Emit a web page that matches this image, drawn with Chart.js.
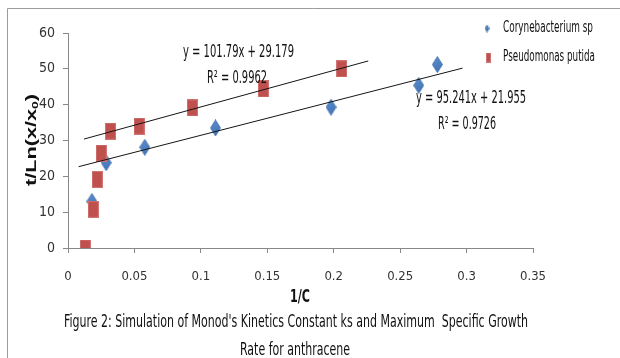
<!DOCTYPE html>
<html><head><meta charset="utf-8">
<script src="https://cdn.jsdelivr.net/npm/chart.js@4.4.1/dist/chart.umd.min.js"></script>
<style>html,body{margin:0;padding:0;background:#fff;}#wrap{width:620px;height:358px;}</style>
</head><body><div id="wrap"><canvas id="c" width="620" height="358"></canvas></div>
<script>
const coryX = [0.018, 0.0287, 0.0578, 0.111, 0.198, 0.264, 0.278];
const coryY = [13, 23.8, 28.1, 33.5, 39.3, 45.4, 51.2];
const pseudoX = [0.013, 0.019, 0.022, 0.025, 0.032, 0.0535, 0.0936, 0.147, 0.206];
const pseudoY = [0, 10.8, 19.1, 26.5, 32.6, 34, 39.1, 44.4, 50];
const pseudoTrendX = [0.012, 0.226];
const pseudoTrendY = [30.4, 52.2];
const coryTrendX = [0.008, 0.297];
const coryTrendY = [22.7, 50.2];
const xTickLabels = ['0','0.05','0.1','0.15','0.2','0.25','0.3','0.35'];
const yTickLabels = ['0','10','20','30','40','50','60'];
const seriesNames = ['Corynebacterium sp','Pseudomonas putida'];
const eqTexts = ['y = 101.79x + 29.179','R² = 0.9962','y = 95.241x + 21.955','R² = 0.9726'];
const xTitle = '1/C';
const yTitleParts = ['t/Ln(x/x','0',')'];
const captionLines = ["Figure 2: Simulation of Monod's Kinetics Constant ks and Maximum  Specific Growth","Rate for anthracene"];

const NARROW = '"Liberation Sans Narrow","DejaVu Sans Condensed","Arial Narrow",sans-serif';

function makeDiamond(w, h) {
  const c = document.createElement('canvas'); c.width = w; c.height = h;
  const g = c.getContext('2d');
  const gr = g.createLinearGradient(0, 0, w, h);
  gr.addColorStop(0, '#5f92d2'); gr.addColorStop(1, '#3d6eb0');
  g.beginPath(); g.moveTo(w/2, 0.5); g.lineTo(w-0.5, h/2); g.lineTo(w/2, h-0.5); g.lineTo(0.5, h/2); g.closePath();
  g.fillStyle = gr; g.fill();
  g.strokeStyle = '#3a6aa6'; g.lineWidth = 0.8; g.stroke();
  return c;
}
function makeRect(w, h) {
  const c = document.createElement('canvas'); c.width = w; c.height = h;
  const g = c.getContext('2d');
  g.fillStyle = '#c0504d'; g.fillRect(0, 0, w, h);
  g.strokeStyle = '#cf7472'; g.lineWidth = 1; g.strokeRect(0.5, 0.5, w-1, h-1);
  return c;
}
const diamondImg = makeDiamond(11, 17);
const rectImg = makeRect(11, 17);
const diamondSmall = makeDiamond(5, 8);
const rectSmall = makeRect(5, 10);

function pts(xs, ys) { return xs.map((x, i) => ({x: x, y: ys[i]})); }

function fitText(ctx, txt, left, right, cy, font, color) {
  ctx.save();
  ctx.font = font;
  const w = ctx.measureText(txt).width;
  const sx = (right - left) / w;
  ctx.translate(left, cy); ctx.scale(sx, 1);
  ctx.textBaseline = 'middle'; ctx.textAlign = 'left'; ctx.fillStyle = color;
  ctx.fillText(txt, 0, 0);
  ctx.restore();
}

const decor = {
  id: 'decor',
  afterDraw(chart) {
    const ctx = chart.ctx;
    ctx.save();
    ctx.strokeStyle = '#9c9c9c'; ctx.lineWidth = 1;
    ctx.beginPath(); ctx.moveTo(7.5, 358); ctx.lineTo(7.5, 8.5); ctx.lineTo(620, 8.5); ctx.stroke();
    const ef = '17px ' + NARROW;
    fitText(ctx, eqTexts[0], 183, 294, 53, ef, '#111');
    fitText(ctx, eqTexts[1], 207, 267, 79, ef, '#111');
    fitText(ctx, eqTexts[2], 416, 526, 99, ef, '#111');
    fitText(ctx, eqTexts[3], 438, 496, 125, ef, '#111');
    ctx.drawImage(diamondSmall, 487 - 2.5, 28.5 - 4);
    ctx.drawImage(rectSmall, 488.5 - 2.5, 57.5 - 5);
    const lf = '15px ' + NARROW;
    fitText(ctx, seriesNames[0], 503, 593, 28.5, lf, '#111');
    fitText(ctx, seriesNames[1], 503, 595, 57.5, lf, '#111');
    fitText(ctx, xTitle, 290, 310, 297.5, 'bold 17px ' + NARROW, '#111');
    const cf = '18px ' + NARROW;
    fitText(ctx, captionLines[0], 64, 528, 322.5, cf, '#111');
    fitText(ctx, captionLines[1], 240, 350, 350, cf, '#111');
    ctx.save();
    const mainF = 'bold 14px "Liberation Sans","DejaVu Sans",Arial,sans-serif';
    const subF = 'bold 9px "Liberation Sans","DejaVu Sans",Arial,sans-serif';
    ctx.font = mainF; const w0 = ctx.measureText(yTitleParts[0]).width; const w2 = ctx.measureText(yTitleParts[2]).width;
    ctx.font = subF; const w1 = ctx.measureText(yTitleParts[1]).width;
    const total = w0 + w1 + w2;
    const targetLen = 92;
    ctx.translate(35.5, 186);
    ctx.rotate(-Math.PI / 2);
    ctx.scale(targetLen / total, 1);
    ctx.fillStyle = '#111'; ctx.textBaseline = 'alphabetic'; ctx.textAlign = 'left';
    ctx.font = mainF; ctx.fillText(yTitleParts[0], 0, 0);
    ctx.font = subF; ctx.fillText(yTitleParts[1], w0, 2.5);
    ctx.font = mainF; ctx.fillText(yTitleParts[2], w0 + w1, 0);
    ctx.restore();
    ctx.restore();
  }
};

new Chart(document.getElementById('c'), {
  type: 'scatter',
  data: {
    datasets: [
      {label: seriesNames[0], data: pts(coryX, coryY), pointStyle: diamondImg, pointRadius: 8, showLine: false, order: 2},
      {label: seriesNames[1], data: pts(pseudoX, pseudoY), pointStyle: rectImg, pointRadius: 8, showLine: false, order: 1},
      {label: 'trendP', data: pts(pseudoTrendX, pseudoTrendY), showLine: true, pointRadius: 0, borderColor: '#141414', borderWidth: 1, fill: false, order: 0},
      {label: 'trendC', data: pts(coryTrendX, coryTrendY), showLine: true, pointRadius: 0, borderColor: '#141414', borderWidth: 1, fill: false, order: 0}
    ]
  },
  options: {
    responsive: false,
    animation: false,
    events: [],
    layout: {padding: {left: 0, top: 33, right: 87, bottom: 0}},
    plugins: {legend: {display: false}, tooltip: {enabled: false}},
    scales: {
      x: {
        type: 'linear', min: 0, max: 0.35,
        ticks: {stepSize: 0.05, callback: (v, i) => xTickLabels[i], font: {family: NARROW, size: 13}, color: '#333', padding: 16, maxRotation: 0},
        grid: {drawOnChartArea: false, drawTicks: true, tickLength: 5, color: '#888'},
        border: {color: '#888', width: 1},
        afterFit: s => { s.height = 110; }
      },
      y: {
        type: 'linear', min: 0, max: 60,
        ticks: {stepSize: 10, callback: (v, i) => yTickLabels[i], font: {family: NARROW, size: 14}, color: '#333', padding: 8},
        grid: {drawOnChartArea: false, drawTicks: true, tickLength: 5, color: '#888'},
        border: {color: '#888', width: 1},
        afterFit: s => { s.width = 68; }
      }
    }
  },
  plugins: [decor]
});
</script></body></html>
